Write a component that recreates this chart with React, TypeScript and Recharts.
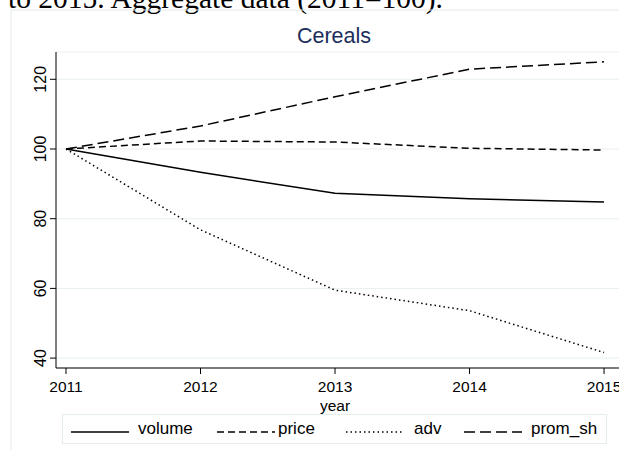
import React from "react";
import { CartesianGrid, Line, LineChart, XAxis, YAxis } from "recharts";

const years = [2011, 2012, 2013, 2014, 2015];
const volume = [100, 93.3, 87.3, 85.7, 84.8];
const price = [100, 102.3, 102.0, 100.2, 99.7];
const adv = [100, 76.8, 59.5, 53.6, 41.6];
const promSh = [100, 106.6, 115.0, 122.9, 125.0];

const yTicks = [40, 60, 80, 100, 120];

const series = [
  { key: "volume", name: "volume", dash: undefined as string | undefined },
  { key: "price", name: "price", dash: "7 4" },
  { key: "adv", name: "adv", dash: "1.5 3" },
  { key: "prom_sh", name: "prom_sh", dash: "11 5" },
];

const data = years.map((year, i) => ({
  year,
  volume: volume[i],
  price: price[i],
  adv: adv[i],
  prom_sh: promSh[i],
}));

const SANS = '"Liberation Sans", Arial, sans-serif';

function YTick({ x, y, payload }: { x?: number; y?: number; payload?: { value: number } }) {
  const bx = (x ?? 0) - 2;
  return (
    <text
      x={bx}
      y={y}
      transform={`rotate(-90 ${bx} ${y})`}
      textAnchor="middle"
      fontSize={16}
      fontFamily={SANS}
      fill="#000"
    >
      {payload?.value}
    </text>
  );
}

// legend item offsets inside the box
const legendPos = [
  { line: 8, text: 75 },
  { line: 154, text: 215 },
  { line: 283, text: 351 },
  { line: 401, text: 468 },
];

export default function App() {
  return (
    <div style={{ position: "fixed", left: 0, top: 0, width: 619, height: 450, overflow: "hidden", background: "#fff" }}>
      <svg width={619} height={450} style={{ position: "absolute", left: 0, top: 0 }}>
        <text x={8} y={8} fontSize={29.5} fontFamily='"Liberation Serif", "Times New Roman", serif' fill="#000">
          to 2015. Aggregate data (2011=100).
        </text>
        <rect x={11} y={10} width={700} height={500} fill="none" stroke="#e4ecee" strokeWidth={1} />
        <text x={334} y={43} textAnchor="middle" fontSize={21.5} fontFamily={SANS} fill="#1c2e5c">
          Cereals
        </text>
      </svg>
      <div style={{ position: "absolute", left: 0, top: 0 }}>
        <LineChart width={630} height={450} data={data} margin={{ top: 52, right: 0, left: 0, bottom: 0 }}>
          <CartesianGrid vertical={false} stroke="#e8f0f1" />
          <XAxis
            dataKey="year"
            type="number"
            domain={[2010.9257, 2015.193]}
            ticks={years}
            allowDataOverflow
            height={82}
            tickSize={6}
            tickMargin={7}
            stroke="#000"
            tick={{ fontSize: 15.5, fontFamily: SANS, fill: "#000" }}
            label={{
              content: () => (
                <text x={335} y={411} textAnchor="middle" fontSize={15.5} fontFamily={SANS} fill="#000">
                  year
                </text>
              ),
            }}
          />
          <YAxis
            type="number"
            domain={[37.16, 127.83]}
            ticks={yTicks}
            allowDataOverflow
            width={56}
            tickSize={6}
            tickMargin={2}
            stroke="#000"
            tick={<YTick />}
          />
          {series.map((s) => (
            <Line
              key={s.key}
              type="linear"
              dataKey={s.key}
              stroke="#000"
              strokeWidth={1.5}
              strokeDasharray={s.dash}
              dot={false}
              isAnimationActive={false}
            />
          ))}
        </LineChart>
      </div>
      <div
        style={{
          position: "absolute",
          left: 62,
          top: 414,
          width: 545,
          height: 30,
          border: "1px solid #e4ecee",
          boxSizing: "border-box",
          fontFamily: SANS,
          fontSize: 17,
        }}
      >
        {series.map((s, i) => (
          <React.Fragment key={s.key}>
            <svg width={58} height={4} style={{ position: "absolute", left: legendPos[i].line, top: 15 }}>
              <line x1={0} y1={2} x2={58} y2={2} stroke="#000" strokeWidth={1.5} strokeDasharray={s.dash} />
            </svg>
            <span style={{ position: "absolute", left: legendPos[i].text, top: 4, lineHeight: "20px" }}>{s.name}</span>
          </React.Fragment>
        ))}
      </div>
    </div>
  );
}
